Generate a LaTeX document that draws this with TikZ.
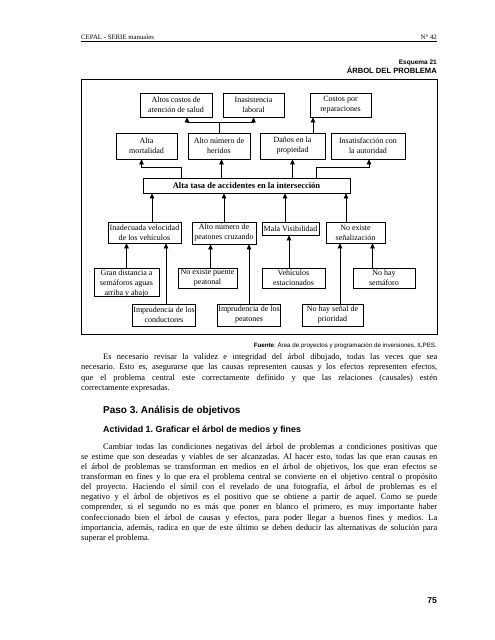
\documentclass[tikz,border=0pt]{standalone}
\usepackage{fontspec}
\setmainfont{Liberation Serif}
\setsansfont{Liberation Sans}
\usetikzlibrary{arrows.meta}
\frenchspacing

\newcommand{\lineaJust}[1]{\makebox[356pt][s]{#1}}

\begin{document}
\begin{tikzpicture}[x=1pt,y=-1pt]
    \tikzset{Caja/.style = {shape=rectangle,draw,line width=0.8pt,align=center,inner xsep=1pt,inner ysep=1.3pt,font=\fontsize{8}{10}\selectfont}}
    \tikzset{CajaCentral/.style = {Caja,font=\fontsize{8.5}{10}\selectfont\bfseries}}
    \tikzset{flecha/.style = {-{Triangle[width=4.6pt,length=5pt]},line width=0.8pt}}
    \tikzset{Texto/.style = {inner sep=0pt,align=left}}

    \useasboundingbox[fill=white] (0,0) rectangle (495,640);

    % cabecera de pagina
    \node[Texto,anchor=base west,font=\fontsize{6.8}{8}\selectfont] (cabecera) at (81,39.5) {CEPAL - SERIE manuales};
    \node[Texto,anchor=base east,font=\fontsize{6.8}{8}\selectfont] (numeroSerie) at (437,39.5) {N° 42};
    \draw[line width=0.9pt] (81,41.8) -- (437,41.8);

    \node[Texto,anchor=base east,font=\sffamily\bfseries\fontsize{6.5}{8}\selectfont] (esquema) at (437,64) {Esquema 21};
    \node[Texto,anchor=base east,font=\sffamily\bfseries\fontsize{7.6}{9}\selectfont] (titulo) at (437,73.5) {ÁRBOL DEL PROBLEMA};

    \draw[line width=0.8pt] (81,79) rectangle (437,334);

    %Efectos
    \node[Caja,minimum width=72,minimum height=24] (costosSalud) at (176,105) {Altos costos de\\atención de salud};
    \node[Caja,minimum width=61,minimum height=24] (inasistencia) at (253.5,105) {Inasistencia\\laboral};
    \node[Caja,minimum width=61,minimum height=24] (costosRep) at (340.5,105) {Costos por\\reparaciones};

    \node[Caja,minimum width=61,minimum height=26] (mortalidad) at (146.5,146) {Alta\\mortalidad};
    \node[Caja,minimum width=62,minimum height=26] (heridos) at (219,146) {Alto número de\\heridos};
    \node[Caja,minimum width=65,minimum height=26] (danos) at (292.5,146) {Daños en la\\propiedad};
    \node[Caja,minimum width=74,minimum height=26] (autoridad) at (368,146) {Insatisfacción con\\la autoridad};

    %Problema central
    \node[CajaCentral,minimum width=207,minimum height=15] (central) at (246.5,185.5) {Alta tasa de accidentes en la intersección};

    %Causas
    \node[Caja,minimum width=73,minimum height=21] (inadecuada) at (144.5,232.5) {Inadecuada velocidad\\de los vehículos};
    \node[Caja,minimum width=64,minimum height=22] (peatones) at (224,233) {Alto número de\\peatones cruzando};
    \node[Caja,minimum width=57,minimum height=13] (visibilidad) at (290.5,228.5) {Mala Visibilidad};
    \node[Caja,minimum width=59,minimum height=21] (senalizacion) at (355.5,232.5) {No existe\\señalización};

    \node[Caja,minimum width=65,anchor=north] (distancia) at (126.5,268) {Gran distancia a\\semáforos aguas\\\raisebox{-0.6pt}[0pt][0pt]{arriba y abajo}};
    \node[Caja,minimum width=59,minimum height=20] (puente) at (207.5,278) {No existe puente\\peatonal};
    \node[Caja,minimum width=63,minimum height=20] (vehiculos) at (293.5,278) {Vehículos\\estacionados};
    \node[Caja,minimum width=62,minimum height=20] (semaforo) at (384,278) {No hay\\semáforo};

    \node[Caja,minimum width=62,minimum height=22] (conductores) at (164,315) {Imprudencia de los\\conductores};
    \node[Caja,minimum width=62,minimum height=22] (imprPeatones) at (249,315) {Imprudencia de los\\peatones};
    \node[Caja,minimum width=61,minimum height=22] (prioridad) at (332.5,315) {No hay señal de\\prioridad};

    %Flechas entre efectos
    \draw[line width=0.8pt] (heridos.north) -- ++(0,-10) coordinate (cruce);
    \draw[flecha] (cruce) -| ([xshift=11]costosSalud.south);
    \draw[flecha] (cruce) -| (inasistencia.south);
    \draw[flecha] ([xshift=20.5]danos.north) -- ([xshift=20.5]danos.north |- costosRep.south);

    %Problema central a efectos
    \draw[flecha] ([xshift=-65]central.north) -- ++(0,-10) -| ([xshift=-5]mortalidad.south);
    \draw[flecha] ([xshift=2.5]heridos.south |- central.north) -- ([xshift=2.5]heridos.south);
    \draw[flecha] (danos.south |- central.north) -- (danos.south);
    \draw[flecha] ([xshift=70]central.north) -- ++(0,-10) -| ([xshift=1]autoridad.south);

    %Causas a problema central
    \draw[flecha] ([xshift=7.5]inadecuada.north) -- ([xshift=7.5]inadecuada.north |- central.south);
    \draw[flecha] (peatones.north) -- (peatones.north |- central.south);
    \draw[flecha] ([xshift=-5.5]visibilidad.north) -- ([xshift=-5.5]visibilidad.north |- central.south);
    \draw[flecha] ([xshift=-9.5]senalizacion.north) -- ([xshift=-9.5]senalizacion.north |- central.south);

    %Causas de segundo nivel
    \draw[flecha] (distancia.north) -- (distancia.north |- inadecuada.south);
    \draw[flecha] ([xshift=2]conductores.north) -- ([xshift=2]conductores.north |- inadecuada.south);
    \draw[flecha] ([xshift=3]puente.north) -- ([xshift=3]puente.north |- peatones.south);
    \draw[flecha] (imprPeatones.north) -- (imprPeatones.north |- peatones.south);
    \draw[flecha] ([xshift=-4.5]vehiculos.north) -- ([xshift=-4.5]vehiculos.north |- visibilidad.south);
    \draw[flecha] ([xshift=7.5]prioridad.north) -- ([xshift=7.5]prioridad.north |- senalizacion.south);
    \draw[flecha] ([xshift=-11.5]semaforo.north) -- ([xshift=-11.5]semaforo.north |- senalizacion.south);

    \node[Texto,anchor=base east,font=\sffamily\fontsize{6.2}{7}\selectfont] (fuente) at (437,347) {\textbf{Fuente}: Área de proyectos y programación de inversiones, ILPES.};

    %Texto de la pagina
    \node[Texto,anchor=north west,font=\fontsize{8.4}{10.4}\selectfont] (parrafoUno) at (81,353.3) {%
        \lineaJust{\hspace*{22pt}Es necesario revisar la validez e integridad del árbol dibujado, todas las veces que sea}\\
        \lineaJust{necesario. Esto es, asegurarse que las causas representen causas y los efectos representen efectos,}\\
        \lineaJust{que el problema central este correctamente definido y que las relaciones (causales) estén}\\
        correctamente expresadas.};

    \node[Texto,anchor=base west,font=\sffamily\bfseries\fontsize{10}{12}\selectfont] (paso) at (103,413) {Paso 3. Análisis de objetivos};
    \node[Texto,anchor=base west,font=\sffamily\bfseries\fontsize{8.9}{10}\selectfont] (actividad) at (103,432) {Actividad 1. Graficar el árbol de medios y fines};

    \node[Texto,anchor=north west,font=\fontsize{8.4}{10.1}\selectfont] (parrafoDos) at (81,443.3) {%
        \lineaJust{\hspace*{22pt}Cambiar todas las condiciones negativas del árbol de problemas a condiciones positivas que}\\
        \lineaJust{se estime que son deseadas y viables de ser alcanzadas. Al hacer esto, todas las que eran causas en}\\
        \lineaJust{el árbol de problemas se transforman en medios en el árbol de objetivos, los que eran efectos se}\\
        \lineaJust{transforman en fines y lo que era el problema central se convierte en el objetivo central o propósito}\\
        \lineaJust{del proyecto. Haciendo el símil con el revelado de una fotografía, el árbol de problemas es el}\\
        \lineaJust{negativo y el árbol de objetivos es el positivo que se obtiene a partir de aquel. Como se puede}\\
        \lineaJust{comprender, si el segundo no es más que poner en blanco el primero, es muy importante haber}\\
        \lineaJust{confeccionado bien el árbol de causas y efectos, para poder llegar a buenos fines y medios. La}\\
        \lineaJust{importancia, además, radica en que de este último se deben deducir las alternativas de solución para}\\
        superar el problema.};

    \node[Texto,anchor=base east,font=\sffamily\bfseries\fontsize{8.5}{10}\selectfont] (pagina) at (437,603) {75};
\end{tikzpicture}
\end{document}
